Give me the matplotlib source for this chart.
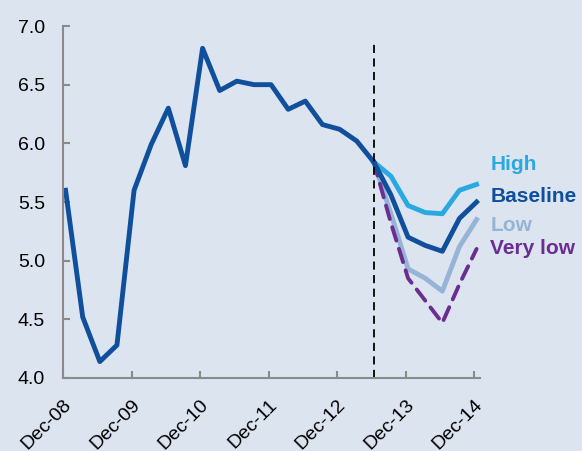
import matplotlib
matplotlib.use("Agg")
import matplotlib.pyplot as plt

# quarterly history, Dec-08 .. Jun-13
hist = [5.60, 4.52, 4.14, 4.28, 5.60, 5.99, 6.30, 5.81, 6.81, 6.45, 6.53, 6.50,
        6.50, 6.29, 6.36, 6.16, 6.12, 6.02, 5.84]
# scenarios, Jun-13 .. Dec-14
high = [5.84, 5.72, 5.47, 5.41, 5.40, 5.60, 5.65]
baseline = [5.84, 5.56, 5.20, 5.13, 5.08, 5.36, 5.50]
low = [5.84, 5.40, 4.93, 4.85, 4.74, 5.12, 5.35]
very_low = [5.84, 5.32, 4.85, 4.66, 4.47, 4.80, 5.10]

tick_labels = ["Dec-08", "Dec-09", "Dec-10", "Dec-11", "Dec-12", "Dec-13", "Dec-14"]
yticks = [4.0, 4.5, 5.0, 5.5, 6.0, 6.5, 7.0]

bg = "#dce4f0"
c_base = "#0f4f9c"
c_high = "#2aa9e0"
c_low = "#96b4d6"
c_vlow = "#6a2d90"

plt.rcParams['font.family'] = ['Liberation Sans', 'DejaVu Sans']

fig = plt.figure(figsize=(5.82, 4.51), dpi=100, facecolor=bg)
ax = fig.add_axes([63 / 582, 1 - 378 / 451, (480 - 63) / 582, (378 - 26) / 451])
ax.set_facecolor(bg)

off = 0.15
xh = [i + off for i in range(len(hist))]
start = len(hist) - 1
xf = [start + i + off for i in range(len(baseline))]

lw = 3.5
ax.plot(xf, high, color=c_high, lw=lw, solid_joinstyle='round')
ax.plot(xf, low, color=c_low, lw=lw, solid_joinstyle='round')
ax.plot(xf, very_low, color=c_vlow, lw=2.8, linestyle=(0, (3.6, 2.2)),
        dash_capstyle='round')
ax.plot(xf, baseline, color=c_base, lw=lw, solid_joinstyle='round')
ax.plot(xh, hist, color=c_base, lw=lw, solid_joinstyle='round')

ax.plot([start + off, start + off], [4.0, 6.86], color="black", lw=1.3,
        linestyle=(0, (4.5, 3)))

ax.set_xlim(0, 24.35)
ax.set_ylim(4.0, 7.0)
ax.set_yticks(yticks)
ax.set_yticklabels(["%.1f" % v for v in yticks])
ax.set_xticks(range(0, 25, 4))
ax.set_xticklabels(tick_labels, rotation=45, ha='right', rotation_mode='anchor')

for s in ["top", "right"]:
    ax.spines[s].set_visible(False)
for s in ["left", "bottom"]:
    ax.spines[s].set_color("#8a8a8a")
    ax.spines[s].set_linewidth(1.5)
ax.tick_params(direction='in', length=5, width=1.5, color="#8a8a8a",
               labelsize=14, labelcolor="black")
ax.tick_params(axis='y', pad=13)
ax.tick_params(axis='x', pad=13)

tr = ax.get_yaxis_transform()
labels = [("High", 5.77, c_high), ("Baseline", 5.50, c_base),
          ("Low", 5.25, c_low), ("Very low", 5.06, c_vlow)]
for txt, yv, col in labels:
    ax.text(1.025, yv, txt, transform=tr, color=col, fontsize=15,
            fontweight='bold', va='baseline', ha='left', clip_on=False)

fig.savefig("out.png", dpi=100, facecolor=bg)
